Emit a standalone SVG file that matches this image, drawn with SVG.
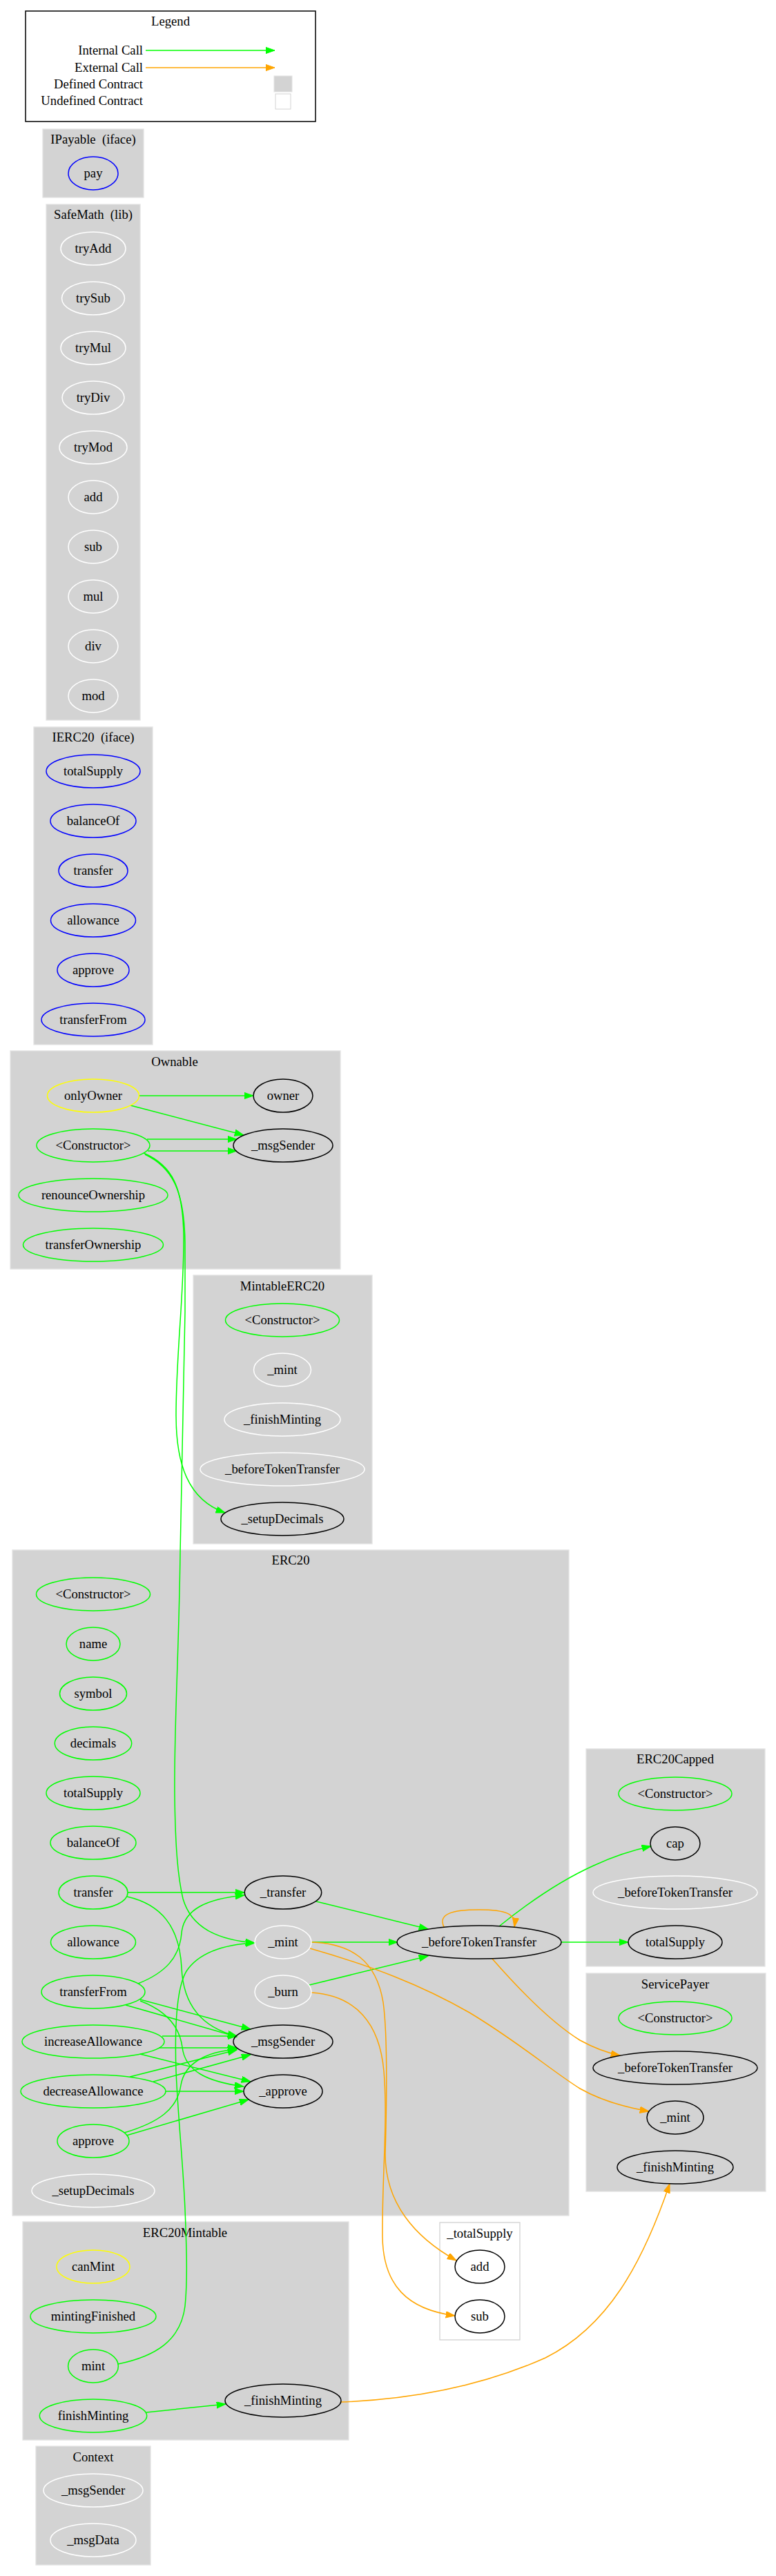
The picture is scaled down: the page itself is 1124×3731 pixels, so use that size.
<svg xmlns="http://www.w3.org/2000/svg" width="1124" height="3731" viewBox="0 0 1124 3731">
<style>
text{font-family:"Liberation Serif","Times New Roman",serif;font-size:18.67px;fill:#000;text-anchor:middle;white-space:pre}
.cl{fill:#d3d3d3;stroke:#e3e3e3;stroke-width:1.33}
ellipse{fill:none;stroke-width:1.5}
.g{stroke:#00ff00}.y{stroke:#ffff00}.b{stroke:#0000ff}.w{stroke:#ffffff}.k{stroke:#000000}
.eg{fill:none;stroke:#00ff00;stroke-width:1.5;marker-end:url(#ag)}
.eo{fill:none;stroke:#ffa500;stroke-width:1.5;marker-end:url(#ao)}
</style>
<defs>
<marker id="ag" markerWidth="14" markerHeight="10" refX="13.3" refY="4.7" orient="auto" markerUnits="userSpaceOnUse"><path d="M0,0 L13.3,4.7 L0,9.4 z" fill="#00ff00" stroke="#00ff00" stroke-width="1"/></marker>
<marker id="ao" markerWidth="14" markerHeight="10" refX="13.3" refY="4.7" orient="auto" markerUnits="userSpaceOnUse"><path d="M0,0 L13.3,4.7 L0,9.4 z" fill="#ffa500" stroke="#ffa500" stroke-width="1"/></marker>
</defs>
<rect width="1124" height="3731" fill="#ffffff"/>

<g id="legend">
<rect x="37" y="16" width="420" height="160" fill="#ffffff" stroke="#000000" stroke-width="1.5"/>
<text x="247" y="37">Legend</text>
<text x="207" y="79" style="text-anchor:end">Internal Call</text>
<text x="207" y="104" style="text-anchor:end">External Call</text>
<text x="207" y="128" style="text-anchor:end">Defined Contract</text>
<text x="207" y="152" style="text-anchor:end">Undefined Contract</text>
<path d="M211,73 L398,73" class="eg"/>
<path d="M211,98 L398,98" class="eo"/>
<rect x="397" y="110" width="26" height="23" fill="#d3d3d3" stroke="#e3e3e3"/>
<rect x="399" y="136" width="22" height="22" fill="#ffffff" stroke="#d3d3d3"/>
</g>

<g id="clusters">
<g id="cluster_IPayable"><rect class="cl" x="62" y="187" width="146" height="99"/><text x="135" y="208">IPayable  (iface)</text></g>
<g id="cluster_SafeMath"><rect class="cl" x="67" y="296" width="136" height="747"/><text x="135" y="317">SafeMath  (lib)</text></g>
<g id="cluster_IERC20"><rect class="cl" x="49" y="1053" width="172" height="460"/><text x="135" y="1074">IERC20  (iface)</text></g>
<g id="cluster_Ownable"><rect class="cl" x="15" y="1522" width="478" height="316"/><text x="253" y="1544">Ownable</text></g>
<g id="cluster_MintableERC20"><rect class="cl" x="280" y="1847" width="259" height="389"/><text x="409" y="1869">MintableERC20</text></g>
<g id="cluster_ERC20"><rect class="cl" x="18" y="2245" width="806" height="964"/><text x="421" y="2266">ERC20</text></g>
<g id="cluster_ERC20Capped"><rect class="cl" x="849" y="2533" width="259" height="315"/><text x="978" y="2554">ERC20Capped</text></g>
<g id="cluster_ServicePayer"><rect class="cl" x="849" y="2858" width="260" height="316"/><text x="978" y="2880">ServicePayer</text></g>
<g id="cluster_totalSupply"><rect x="637" y="3219" width="116" height="170" fill="#ffffff" stroke="#d3d3d3" stroke-width="1.33"/><text x="695" y="3241">_totalSupply</text></g>
<g id="cluster_ERC20Mintable"><rect class="cl" x="33" y="3218" width="472" height="316"/><text x="268" y="3240">ERC20Mintable</text></g>
<g id="cluster_Context"><rect class="cl" x="52" y="3543" width="166" height="172"/><text x="135" y="3565">Context</text></g>
</g>

<g id="edges">
<path class="eg" d="M201,1587 L367,1587"/>
<path class="eg" d="M189,1601 L353,1644"/>
<path class="eg" d="M213,1650 L343,1650"/>
<path class="eg" d="M214,1667 L343,1667"/>
<path class="eg" d="M208,1670 C250,1688 265,1720 266,1790 C267,1870 255,1960 255,2050 C255,2120 272,2172 326,2191"/>
<path class="eg" d="M210,1672 C248,1690 267,1722 268,1800 L268,1900 C266,2050 262,2150 261,2250 C259,2400 252,2500 253,2600 C254,2680 258,2720 265,2750 C278,2795 320,2810 369,2814"/>
<path class="eg" d="M171,3424 C225,3413 262,3390 268,3340 C272,3300 270,3250 268,3200 C265,3130 258,3070 255,3000 C253,2940 255,2880 270,2855 C290,2825 330,2816 369,2814"/>
<path class="eg" d="M185,2741 L354,2741"/>
<path class="eg" d="M184,2747 C233,2758 260,2790 263,2850 C265,2895 285,2935 343,2949"/>
<path class="eg" d="M200,2873 C240,2857 260,2835 263,2800 C266,2765 300,2750 354,2745"/>
<path class="eg" d="M203,2896 L363,2939"/>
<path class="eg" d="M182,2904 L343,2950"/>
<path class="eg" d="M203,2898 C240,2912 260,2935 264,2965 C268,3000 300,3015 353,3022"/>
<path class="eg" d="M235,2949 L343,2949"/>
<path class="eg" d="M230,2966 L343,2966"/>
<path class="eg" d="M203,2975 L363,3015"/>
<path class="eg" d="M188,3008 L343,2969"/>
<path class="eg" d="M222,3015 L363,2976"/>
<path class="eg" d="M240,3029 L353,3029"/>
<path class="eg" d="M180,3089 C230,3074 257,3055 262,3020 C267,2990 295,2972 343,2968"/>
<path class="eg" d="M183,3093 L360,3041"/>
<path class="eg" d="M458,2754 L620,2794"/>
<path class="eg" d="M451,2813 L576,2813"/>
<path class="eg" d="M448,2875 L620,2833"/>
<path class="eg" d="M723,2790 C770,2752 820,2720 860,2702 C890,2688 915,2680 943,2674"/>
<path class="eg" d="M813,2813 L910,2813"/>
<path class="eo" d="M643,2791 C634,2772 655,2766 694,2766 C733,2766 748,2772 745,2791"/>
<path class="eo" d="M713,2837 C755,2885 800,2930 840,2955 C860,2966 878,2973 898,2977"/>
<path class="eo" d="M449,2822 C540,2848 610,2875 680,2915 C750,2957 800,3000 840,3025 C870,3042 905,3052 940,3058"/>
<path class="eo" d="M451,2813 C510,2815 545,2840 555,2900 C562,2950 560,3050 558,3120 C558,3190 600,3240 661,3274"/>
<path class="eo" d="M451,2886 C515,2890 550,2930 556,3000 C562,3070 553,3160 554,3240 C555,3310 590,3345 659,3354"/>
<path class="eg" d="M212,3494 L327,3482"/>
<path class="eo" d="M494,3479 C600,3475 700,3455 790,3415 C880,3370 930,3280 970,3163"/>
</g>

<g id="n_IPayable_pay"><ellipse class="b" cx="135" cy="251" rx="36" ry="24"/><text x="135" y="257">pay</text></g>

<g id="n_SafeMath_tryAdd"><ellipse class="w" cx="135" cy="360" rx="47" ry="24"/><text x="135" y="366">tryAdd</text></g>
<g id="n_SafeMath_trySub"><ellipse class="w" cx="135" cy="432" rx="45.5" ry="24"/><text x="135" y="438">trySub</text></g>
<g id="n_SafeMath_tryMul"><ellipse class="w" cx="135" cy="504" rx="47" ry="24"/><text x="135" y="510">tryMul</text></g>
<g id="n_SafeMath_tryDiv"><ellipse class="w" cx="135" cy="576" rx="45" ry="24"/><text x="135" y="582">tryDiv</text></g>
<g id="n_SafeMath_tryMod"><ellipse class="w" cx="135" cy="648" rx="49" ry="24"/><text x="135" y="654">tryMod</text></g>
<g id="n_SafeMath_add"><ellipse class="w" cx="135" cy="720" rx="36" ry="24"/><text x="135" y="726">add</text></g>
<g id="n_SafeMath_sub"><ellipse class="w" cx="135" cy="792" rx="36" ry="24"/><text x="135" y="798">sub</text></g>
<g id="n_SafeMath_mul"><ellipse class="w" cx="135" cy="864" rx="36" ry="24"/><text x="135" y="870">mul</text></g>
<g id="n_SafeMath_div"><ellipse class="w" cx="135" cy="936" rx="36" ry="24"/><text x="135" y="942">div</text></g>
<g id="n_SafeMath_mod"><ellipse class="w" cx="135" cy="1008" rx="36" ry="24"/><text x="135" y="1014">mod</text></g>

<g id="n_IERC20_totalSupply"><ellipse class="b" cx="135" cy="1117" rx="68" ry="24"/><text x="135" y="1123">totalSupply</text></g>
<g id="n_IERC20_balanceOf"><ellipse class="b" cx="135" cy="1189" rx="62" ry="24"/><text x="135" y="1195">balanceOf</text></g>
<g id="n_IERC20_transfer"><ellipse class="b" cx="135" cy="1261" rx="50" ry="24"/><text x="135" y="1267">transfer</text></g>
<g id="n_IERC20_allowance"><ellipse class="b" cx="135" cy="1333" rx="61.5" ry="24"/><text x="135" y="1339">allowance</text></g>
<g id="n_IERC20_approve"><ellipse class="b" cx="135" cy="1405" rx="52" ry="24"/><text x="135" y="1411">approve</text></g>
<g id="n_IERC20_transferFrom"><ellipse class="b" cx="135" cy="1477" rx="75" ry="24"/><text x="135" y="1483">transferFrom</text></g>

<g id="n_Ownable_onlyOwner"><ellipse class="y" cx="135" cy="1587" rx="66.5" ry="24"/><text x="135" y="1593">onlyOwner</text></g>
<g id="n_Ownable_owner"><ellipse class="k" cx="410" cy="1587" rx="43" ry="24"/><text x="410" y="1593">owner</text></g>
<g id="n_Ownable_Constructor"><ellipse class="g" cx="135" cy="1659" rx="82" ry="24"/><text x="135" y="1665">&lt;Constructor&gt;</text></g>
<g id="n_Ownable_msgSender"><ellipse class="k" cx="410" cy="1659" rx="72" ry="24"/><text x="410" y="1665">_msgSender</text></g>
<g id="n_Ownable_renounceOwnership"><ellipse class="g" cx="135" cy="1731" rx="108" ry="24"/><text x="135" y="1737">renounceOwnership</text></g>
<g id="n_Ownable_transferOwnership"><ellipse class="g" cx="135" cy="1803" rx="101.5" ry="24"/><text x="135" y="1809">transferOwnership</text></g>

<g id="n_MintableERC20_Constructor"><ellipse class="g" cx="409" cy="1912" rx="82.5" ry="24"/><text x="409" y="1918">&lt;Constructor&gt;</text></g>
<g id="n_MintableERC20_mint"><ellipse class="w" cx="409" cy="1984" rx="41.5" ry="24"/><text x="409" y="1990">_mint</text></g>
<g id="n_MintableERC20_finishMinting"><ellipse class="w" cx="409" cy="2056" rx="84" ry="24"/><text x="409" y="2062">_finishMinting</text></g>
<g id="n_MintableERC20_beforeTokenTransfer"><ellipse class="w" cx="409" cy="2128" rx="119" ry="24"/><text x="409" y="2134">_beforeTokenTransfer</text></g>
<g id="n_MintableERC20_setupDecimals"><ellipse class="k" cx="409" cy="2200" rx="89" ry="24"/><text x="409" y="2206">_setupDecimals</text></g>

<g id="n_ERC20_Constructor"><ellipse class="g" cx="135" cy="2309" rx="82.5" ry="24"/><text x="135" y="2315">&lt;Constructor&gt;</text></g>
<g id="n_ERC20_name"><ellipse class="g" cx="135" cy="2381" rx="39" ry="24"/><text x="135" y="2387">name</text></g>
<g id="n_ERC20_symbol"><ellipse class="g" cx="135" cy="2453" rx="48.5" ry="24"/><text x="135" y="2459">symbol</text></g>
<g id="n_ERC20_decimals"><ellipse class="g" cx="135" cy="2525" rx="55.7" ry="24"/><text x="135" y="2531">decimals</text></g>
<g id="n_ERC20_totalSupply"><ellipse class="g" cx="135" cy="2597" rx="68" ry="24"/><text x="135" y="2603">totalSupply</text></g>
<g id="n_ERC20_balanceOf"><ellipse class="g" cx="135" cy="2669" rx="62" ry="24"/><text x="135" y="2675">balanceOf</text></g>
<g id="n_ERC20_transfer"><ellipse class="g" cx="135" cy="2741" rx="50" ry="24"/><text x="135" y="2747">transfer</text></g>
<g id="n_ERC20_allowance"><ellipse class="g" cx="135" cy="2813" rx="61.5" ry="24"/><text x="135" y="2819">allowance</text></g>
<g id="n_ERC20_transferFrom"><ellipse class="g" cx="135" cy="2885" rx="75" ry="24"/><text x="135" y="2891">transferFrom</text></g>
<g id="n_ERC20_increaseAllowance"><ellipse class="g" cx="135" cy="2957" rx="103" ry="24"/><text x="135" y="2963">increaseAllowance</text></g>
<g id="n_ERC20_decreaseAllowance"><ellipse class="g" cx="135" cy="3029" rx="105" ry="24"/><text x="135" y="3035">decreaseAllowance</text></g>
<g id="n_ERC20_approve"><ellipse class="g" cx="135" cy="3101" rx="52" ry="24"/><text x="135" y="3107">approve</text></g>
<g id="n_ERC20_setupDecimals"><ellipse class="w" cx="135" cy="3173" rx="89" ry="24"/><text x="135" y="3179">_setupDecimals</text></g>
<g id="n_ERC20__transfer"><ellipse class="k" cx="410" cy="2741" rx="55.7" ry="24"/><text x="410" y="2747">_transfer</text></g>
<g id="n_ERC20__mint"><ellipse class="w" cx="410" cy="2813" rx="41" ry="24"/><text x="410" y="2819">_mint</text></g>
<g id="n_ERC20__burn"><ellipse class="w" cx="410" cy="2885" rx="41" ry="24"/><text x="410" y="2891">_burn</text></g>
<g id="n_ERC20__msgSender"><ellipse class="k" cx="410" cy="2957" rx="72" ry="24"/><text x="410" y="2963">_msgSender</text></g>
<g id="n_ERC20__approve"><ellipse class="k" cx="410" cy="3029" rx="57" ry="24"/><text x="410" y="3035">_approve</text></g>
<g id="n_ERC20__beforeTokenTransfer"><ellipse class="k" cx="694" cy="2813" rx="119" ry="24"/><text x="694" y="2819">_beforeTokenTransfer</text></g>

<g id="n_ERC20Capped_Constructor"><ellipse class="g" cx="978" cy="2598" rx="82" ry="24"/><text x="978" y="2604">&lt;Constructor&gt;</text></g>
<g id="n_ERC20Capped_cap"><ellipse class="k" cx="978" cy="2670" rx="36" ry="24"/><text x="978" y="2676">cap</text></g>
<g id="n_ERC20Capped_beforeTokenTransfer"><ellipse class="w" cx="978" cy="2741" rx="119" ry="24"/><text x="978" y="2747">_beforeTokenTransfer</text></g>
<g id="n_ERC20Capped_totalSupply"><ellipse class="k" cx="978" cy="2813" rx="68" ry="24"/><text x="978" y="2819">totalSupply</text></g>

<g id="n_ServicePayer_Constructor"><ellipse class="g" cx="978" cy="2923" rx="82" ry="24"/><text x="978" y="2929">&lt;Constructor&gt;</text></g>
<g id="n_ServicePayer_beforeTokenTransfer"><ellipse class="k" cx="978" cy="2995" rx="119" ry="24"/><text x="978" y="3001">_beforeTokenTransfer</text></g>
<g id="n_ServicePayer_mint"><ellipse class="k" cx="978" cy="3067" rx="41" ry="24"/><text x="978" y="3073">_mint</text></g>
<g id="n_ServicePayer_finishMinting"><ellipse class="k" cx="978" cy="3139" rx="84" ry="24"/><text x="978" y="3145">_finishMinting</text></g>

<g id="n_totalSupply_add"><ellipse class="k" cx="695" cy="3283" rx="36" ry="24"/><text x="695" y="3289">add</text></g>
<g id="n_totalSupply_sub"><ellipse class="k" cx="695" cy="3355" rx="36" ry="24"/><text x="695" y="3361">sub</text></g>

<g id="n_ERC20Mintable_canMint"><ellipse class="y" cx="135" cy="3283" rx="53" ry="24"/><text x="135" y="3289">canMint</text></g>
<g id="n_ERC20Mintable_mintingFinished"><ellipse class="g" cx="135" cy="3355" rx="91" ry="24"/><text x="135" y="3361">mintingFinished</text></g>
<g id="n_ERC20Mintable_mint"><ellipse class="g" cx="135" cy="3427" rx="36.4" ry="24"/><text x="135" y="3433">mint</text></g>
<g id="n_ERC20Mintable_finishMinting"><ellipse class="g" cx="135" cy="3499" rx="77.7" ry="24"/><text x="135" y="3505">finishMinting</text></g>
<g id="n_ERC20Mintable__finishMinting"><ellipse class="k" cx="410" cy="3477" rx="84" ry="24"/><text x="410" y="3483">_finishMinting</text></g>

<g id="n_Context_msgSender"><ellipse class="w" cx="135" cy="3607" rx="72" ry="24"/><text x="135" y="3613">_msgSender</text></g>
<g id="n_Context_msgData"><ellipse class="w" cx="135" cy="3679" rx="62" ry="24"/><text x="135" y="3685">_msgData</text></g>
</svg>
